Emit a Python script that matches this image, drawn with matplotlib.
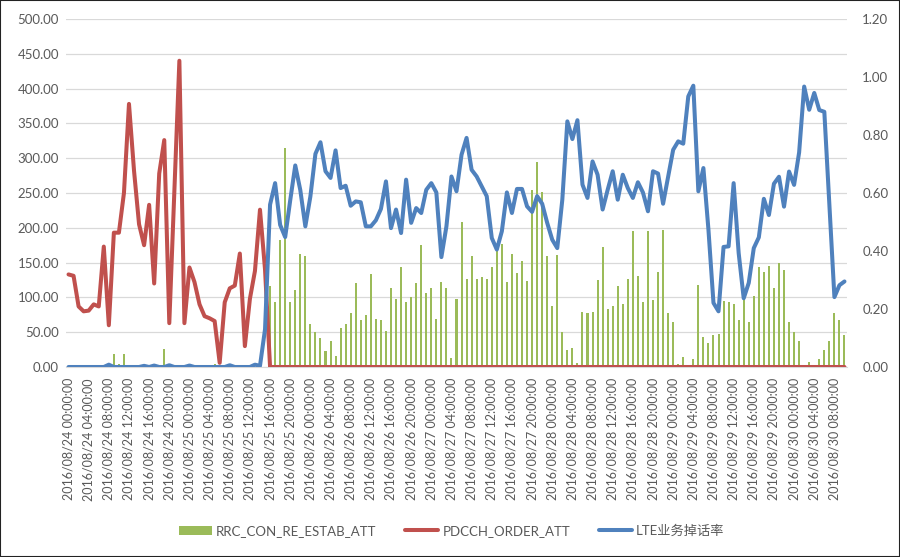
import matplotlib
matplotlib.use("Agg")
import matplotlib.pyplot as plt
import numpy as np
import pandas as pd
from matplotlib.patches import Rectangle
from matplotlib.ticker import FormatStrFormatter

plt.rcParams['font.family'] = ['Lato', 'Noto Sans CJK SC', 'DejaVu Sans']

# hourly categories, 2016/08/24 00:00 .. 2016/08/30 10:00
times = pd.date_range('2016-08-24 00:00', periods=155, freq='h')
labels = [t.strftime('%Y/%m/%d %H:%M:%S') for t in times]

series_names = ['RRC_CON_RE_ESTAB_ATT', 'PDCCH_ORDER_ATT', 'LTE业务掉话率']

# bars, left axis
rrc_att = [0, 0, 0, 0, 0, 0, 0, 0, 0, 19, 5, 18, 0, 0, 0, 0, 0, 0, 0, 26,
           0, 3, 0, 0, 0, 0, 0, 0, 0, 5, 0, 0, 0, 0, 0, 0, 0, 0, 0, 0,
           117, 94, 182, 315, 93, 110, 163, 160, 62, 51, 42, 23, 37, 16, 56, 62, 77, 120, 67, 74,
           134, 69, 67, 52, 113, 97, 143, 93, 100, 120, 176, 106, 113, 69, 122, 113, 13, 97, 209, 127,
           160, 127, 129, 127, 144, 166, 177, 122, 163, 135, 152, 123, 255, 295, 251, 160,
           88, 161, 50, 24, 27, 6, 79, 77, 79, 125, 172, 83, 87, 116, 90, 127, 196, 131, 93, 196,
           96, 136, 197, 77, 64, 5, 14, 3, 12, 118, 43, 35, 46, 48, 95, 93, 91, 67, 111, 64,
           102, 143, 137, 145, 113, 149, 139, 64, 50, 37, 3, 7, 0, 12, 25, 38, 78, 67, 46]

# red line, left axis
pdcch_att = [133, 131, 87, 80, 81, 90, 87, 173, 60, 193, 193, 250, 378, 282, 205, 175, 233, 120, 278, 326,
             63, 250, 440, 63, 143, 122, 90, 73, 70, 66, 6, 93, 113, 117, 163, 30, 98, 138, 226, 140] + [0] * 115

# blue line, right axis
drop_rate = [0, 0, 0, 0, 0, 0, 0, 0, 0.008, 0, 0, 0, 0, 0, 0, 0.004, 0, 0.005, 0, 0,
             0.006, 0, 0, 0, 0.005, 0, 0, 0, 0, 0, 0, 0, 0.006, 0, 0, 0, 0, 0.008, 0.004, 0.13,
             0.56, 0.634, 0.49, 0.448, 0.575, 0.695, 0.61, 0.485, 0.588, 0.735, 0.775, 0.675, 0.652, 0.747,
             0.617, 0.625, 0.556, 0.571, 0.568, 0.485, 0.485, 0.506, 0.545, 0.64, 0.479, 0.543, 0.462, 0.646,
             0.497, 0.548, 0.531, 0.611, 0.634, 0.602, 0.379, 0.485, 0.657, 0.606, 0.732, 0.79, 0.68, 0.657,
             0.623, 0.589, 0.445, 0.405, 0.468, 0.602, 0.531, 0.614, 0.614, 0.554, 0.535, 0.589, 0.563, 0.497,
             0.439, 0.41, 0.577, 0.847, 0.786, 0.851, 0.629, 0.583, 0.709, 0.663, 0.543, 0.611, 0.675, 0.577,
             0.663, 0.617, 0.583, 0.637, 0.602, 0.537, 0.675, 0.667, 0.563, 0.657, 0.749, 0.778, 0.77, 0.933,
             0.97, 0.606, 0.686, 0.474, 0.221, 0.192, 0.414, 0.416, 0.634, 0.393, 0.237, 0.29, 0.41, 0.447,
             0.58, 0.524, 0.632, 0.656, 0.553, 0.674, 0.628, 0.74, 0.967, 0.887, 0.945, 0.886, 0.88, 0.563,
             0.241, 0.282, 0.295]

left_ticks = np.arange(0, 501, 50)
right_ticks = np.arange(0, 1.21, 0.2)

text_color = '#595959'

fig = plt.figure(figsize=(9, 5.57), dpi=100)
ax = fig.add_axes([66 / 900, 1 - 367 / 557, (847 - 66) / 900, 348 / 557])
x = np.arange(len(times))

bars = ax.bar(x, rrc_att, width=0.4, color='#9BBB59', zorder=2)
red_line, = ax.plot(x, pdcch_att, color='#C0504D', lw=2.9, zorder=3,
                    solid_joinstyle='round', solid_capstyle='round')

ax.set_xlim(-0.5, len(x) - 0.5)
ax.set_ylim(0, 500)
ax.set_yticks(left_ticks)
ax.yaxis.set_major_formatter(FormatStrFormatter('%.2f'))
ax.set_xticks(x[::4])
ax.set_xticklabels(labels[::4], rotation=90)
ax.grid(axis='y', color='#d9d9d9', lw=0.9)
ax.set_axisbelow(True)
ax.tick_params(axis='x', length=0, pad=8, labelsize=9, labelcolor=text_color)
ax.tick_params(axis='y', length=0, pad=5, labelsize=9.5, labelcolor=text_color)
for side in ['top', 'left', 'right']:
    ax.spines[side].set_visible(False)
ax.spines['bottom'].set_color('#d9d9d9')

ax2 = ax.twinx()
blue_line, = ax2.plot(x, drop_rate, color='#4F81BD', lw=2.9, zorder=4,
                      solid_joinstyle='round', solid_capstyle='round')
ax2.set_ylim(0, 1.2)
ax2.set_yticks(right_ticks)
ax2.yaxis.set_major_formatter(FormatStrFormatter('%.2f'))
ax2.tick_params(axis='y', length=0, pad=11, labelsize=9.5, labelcolor=text_color)
for side in ['top', 'left', 'right', 'bottom']:
    ax2.spines[side].set_visible(False)

fig.legend([bars, red_line, blue_line], series_names, loc='center',
           bbox_to_anchor=(0.502, 0.047), ncol=3, frameon=False, fontsize=9.5,
           handlelength=2.5, columnspacing=2.2, handletextpad=0.3, labelcolor=text_color)

# chart border
fig.add_artist(Rectangle((0, 0), 1, 1, transform=fig.transFigure, fill=False,
                         edgecolor='#222222', lw=1.5))

fig.savefig('out.png', dpi=100)
